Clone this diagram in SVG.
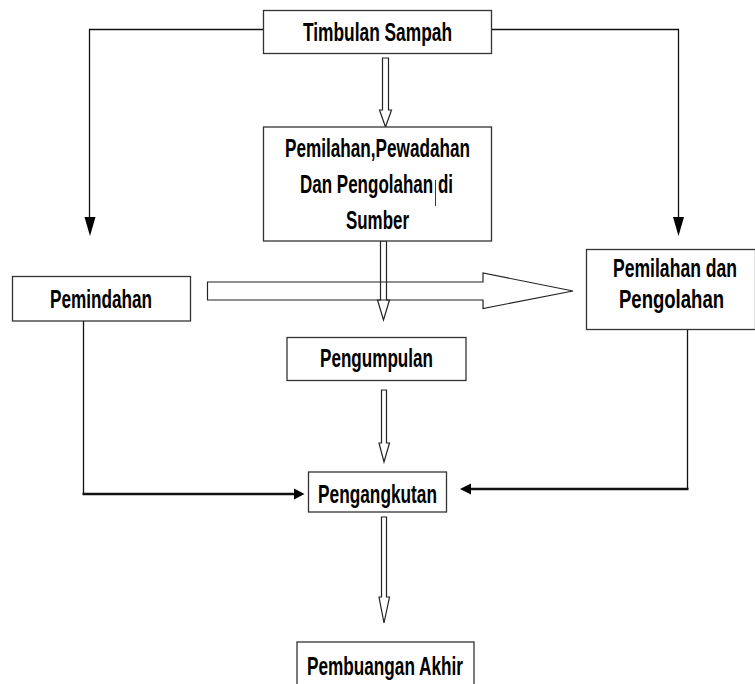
<svg xmlns="http://www.w3.org/2000/svg" width="755" height="684" viewBox="0 0 755 684">
<style>
.box{fill:#fff;stroke:#333;stroke-width:1.3}
.t{font-family:"Liberation Sans",Arial,sans-serif;font-weight:bold;font-size:26px;fill:#000}
.ln{fill:none;stroke:#111;stroke-width:1.3}
.thk{fill:none;stroke:#111;stroke-width:2.6}
.hol{fill:#fff;stroke:#222;stroke-width:1.2}
.holn{fill:none;stroke:#222;stroke-width:1.2}
.head{fill:#000;stroke:none}
</style>
<rect width="755" height="684" fill="#fff"/>
<g id="connectors">
<polyline class="ln" points="263,29.5 89.5,29.5 89.5,218"/>
<polygon class="head" points="84.5,217 95.5,217 90,236"/>
<polyline class="ln" points="491,29.5 678.5,29.5 678.5,218"/>
<polygon class="head" points="673,217 684,217 678.5,236"/>
<polygon class="hol" points="382.5,58 388.5,58 388.5,110 391.5,110 385.5,127 379.5,110 382.5,110"/>
<polygon class="hol" points="207.5,282 483,282 483,273 573,291 483,308.5 483,300 207.5,300"/>
<polygon class="holn" points="380.5,241 386.5,241 386.5,300 389.5,300 383.5,320 377.5,300 380.5,300"/>
<polygon class="hol" points="381.5,390 386.5,390 386.5,443 389.5,443 384,462 379,443 381.5,443"/>
<polygon class="hol" points="381.5,517 386.5,517 386.5,597 389.5,597 384,623 379,597 381.5,597"/>
<polyline class="ln" points="83.5,321 83.5,494"/>
<polyline class="thk" points="82.5,494 296,494"/>
<polygon class="head" points="294,488.5 304.5,494 294,499.5"/>
<polyline class="ln" points="687.5,329 687.5,489"/>
<polyline class="thk" points="688.5,489 469,489"/>
<polygon class="head" points="471,483.5 460,489 471,494.5"/>
</g>
<g id="timbulan">
<rect class="box" x="263.5" y="10.5" width="228" height="43"/>
<text class="t" x="303" y="41" textLength="149" lengthAdjust="spacingAndGlyphs">Timbulan Sampah</text>
</g>
<g id="pemilahan-sumber">
<rect class="box" x="263.5" y="127" width="228" height="114"/>
<text class="t" x="285" y="157" textLength="185" lengthAdjust="spacingAndGlyphs">Pemilahan,Pewadahan</text>
<text class="t" x="300" y="193" textLength="153" lengthAdjust="spacingAndGlyphs">Dan Pengolahan di</text>
<line x1="435.5" y1="180" x2="435.5" y2="206" stroke="#000" stroke-width="0.8"/>
<text class="t" x="346" y="229" textLength="63" lengthAdjust="spacingAndGlyphs">Sumber</text>
</g>
<g id="pemindahan">
<rect class="box" x="12.5" y="276.5" width="178" height="44.5"/>
<text class="t" x="50" y="308" textLength="102" lengthAdjust="spacingAndGlyphs">Pemindahan</text>
</g>
<g id="pemilahan-pengolahan">
<rect class="box" x="586.5" y="249.5" width="169" height="80"/>
<text class="t" x="613" y="277" textLength="124" lengthAdjust="spacingAndGlyphs">Pemilahan dan</text>
<text class="t" x="619" y="308" textLength="105" lengthAdjust="spacingAndGlyphs">Pengolahan</text>
</g>
<g id="pengumpulan">
<rect class="box" x="287" y="337.5" width="179" height="43"/>
<text class="t" x="320" y="367" textLength="113" lengthAdjust="spacingAndGlyphs">Pengumpulan</text>
</g>
<g id="pengangkutan">
<rect class="box" x="308.5" y="472" width="138" height="40"/>
<text class="t" x="318" y="503" textLength="119" lengthAdjust="spacingAndGlyphs">Pengangkutan</text>
</g>
<g id="pembuangan">
<rect class="box" x="297" y="642" width="177" height="50"/>
<text class="t" x="307" y="675" textLength="156" lengthAdjust="spacingAndGlyphs">Pembuangan Akhir</text>
</g>
</svg>
